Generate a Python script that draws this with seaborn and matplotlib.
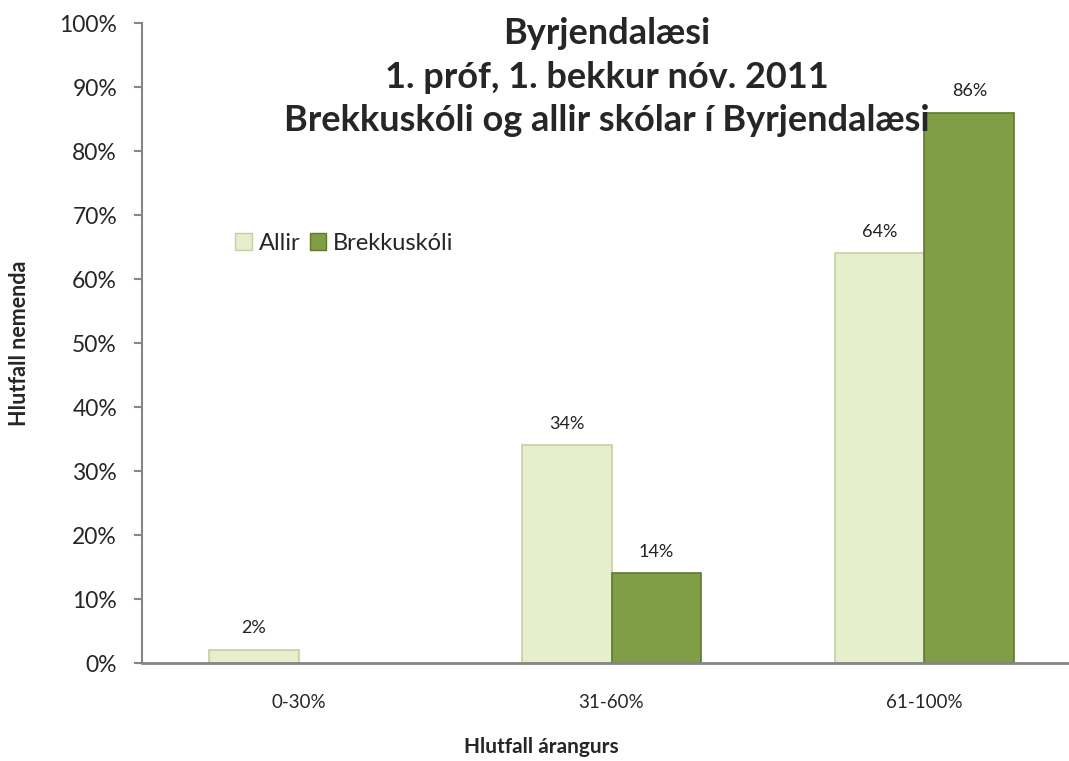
import numpy as np
import pandas as pd
import seaborn as sns

import matplotlib.pyplot as plt

categories = ['0-30%', '31-60%', '61-100%']
allir = [2, 34, 64]
brekkuskoli = [0, 14, 86]
series = ['Allir', 'Brekkuskóli']

title = 'Byrjendalæsi\n1. próf, 1. bekkur nóv. 2011\nBrekkuskóli og allir skólar í Byrjendalæsi'

df = pd.DataFrame({
    'flokkur': categories * 2,
    'hlutfall': allir + brekkuskoli,
    'hopur': [series[0]] * 3 + [series[1]] * 3,
})

sns.set_style('white')
plt.rcParams['font.family'] = ['Lato', 'DejaVu Sans']

fig = plt.figure(figsize=(10.69, 7.61), dpi=100)
# axes runs past the right edge, like the original
ax = fig.add_axes([142 / 1069, 1 - 663 / 761, 939 / 1069, 640 / 761])

pal = {'Allir': '#e5efcb', 'Brekkuskóli': '#7f9e45'}
sns.barplot(data=df, x='flokkur', y='hlutfall', hue='hopur', palette=pal,
            width=0.575, saturation=1, ax=ax, legend=False)

edges = {'Allir': '#c3cfa2', 'Brekkuskóli': '#5d7a2c'}
for cont, name in zip(ax.containers, series):
    for p in cont.patches:
        p.set_edgecolor(edges[name])
        p.set_linewidth(1.2 if p.get_height() > 0 else 0)
    labels = ['{:.0f}%'.format(v) if v > 0 else '' for v in cont.datavalues]
    ax.bar_label(cont, labels=labels, padding=10, fontsize=13, color='#222222')

ax.set_ylim(0, 100)
ax.set_xlim(-0.5, 2.5)
ax.set_yticks(np.arange(0, 101, 10))
ax.set_yticklabels(['{}%'.format(v) for v in range(0, 101, 10)], fontsize=16.5)
ax.set_xticks(range(3))
ax.set_xticklabels(categories, fontsize=13.5)
ax.set_xticks([-0.5, 0.5, 1.5, 2.5], minor=True)
ax.tick_params(axis='x', which='major', length=0, pad=22)
ax.tick_params(axis='x', which='minor', length=6, width=2, color='#868686', direction='out')
ax.tick_params(axis='y', length=6, width=1.5, color='#868686', direction='out', pad=12)
ax.tick_params(left=True, bottom=True)

for s in ['top', 'right']:
    ax.spines[s].set_visible(False)
for s in ['left', 'bottom']:
    ax.spines[s].set_color('#868686')
    ax.spines[s].set_linewidth(2)
ax.spines['left'].set_linewidth(1.5)

ax.set_xlabel('')
ax.set_ylabel('')
fig.text(20 / 1069, 1 - 343 / 761, 'Hlutfall nemenda', rotation=90, fontsize=15.5,
         fontweight='bold', ha='center', va='center')
fig.text(541 / 1069, 1 - 747 / 761, 'Hlutfall árangurs', fontsize=15,
         fontweight='bold', ha='center', va='center')
fig.text(607 / 1069, 1 - 77 / 761, title, fontsize=26, fontweight='bold',
         ha='center', va='center', linespacing=1.39)

handles = [plt.Rectangle((0, 0), 1, 1, facecolor=pal[s], edgecolor=edges[s], linewidth=1) for s in series]
fig.legend(handles, series, loc='center left', bbox_to_anchor=(235 / 1069, 1 - 243 / 761),
           ncol=2, frameon=False, fontsize=17, handlelength=0.7, handleheight=0.7,
           handletextpad=0.3, columnspacing=0.4, borderpad=0, borderaxespad=0)

fig.savefig('out.png', dpi=100)
